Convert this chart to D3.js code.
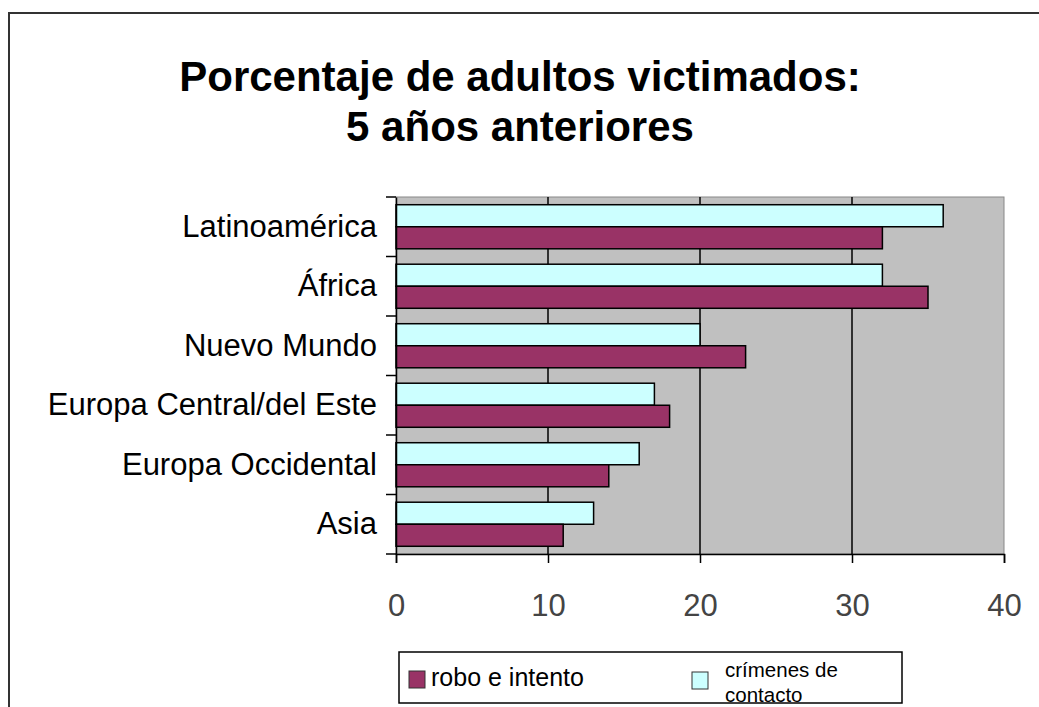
<!DOCTYPE html>
<html lang="es">
<head>
<meta charset="UTF-8">
<title>Porcentaje de adultos victimados</title>
<style>
  body { margin: 0; background: #fff; }
  text { font-family: Arial, "Liberation Sans", sans-serif; }
</style>
</head>
<body>
<script src="https://cdn.jsdelivr.net/npm/d3@7"></script>
<script>
  // datos
  const regions = ['Latinoamérica', 'África', 'Nuevo Mundo', 'Europa Central/del Este', 'Europa Occidental', 'Asia'];
  const contacto = [36, 32, 20, 17, 16, 13];   // crímenes de contacto
  const robo = [32, 35, 23, 18, 14, 11];       // robo e intento
  const xTicks = [0, 10, 20, 30, 40];
  const seriesNames = ['crímenes de contacto', 'robo e intento'];
  const colors = ['#ccffff', '#993366'];

  const w = 1039;
  const h = 707;
  const plot = { left: 396, right: 1004, top: 197, bottom: 554 };

  const svg = d3.select('body')
    .append('svg')
    .attr('width', w)
    .attr('height', h);

  // marco exterior
  svg.append('rect')
    .attr('x', 9).attr('y', 13)
    .attr('width', w + 20).attr('height', h + 20)
    .attr('fill', 'none')
    .attr('stroke', '#333')
    .attr('stroke-width', 2);

  // titulo
  const title = svg.append('text')
    .attr('text-anchor', 'middle')
    .attr('font-size', '42px')
    .attr('font-weight', 'bold')
    .attr('fill', '#000');
  title.append('tspan').attr('x', 520).attr('y', 91).text('Porcentaje de adultos victimados:');
  title.append('tspan').attr('x', 520).attr('y', 141).text('5 años anteriores');

  const xScale = d3.scaleLinear()
    .domain([0, 40])
    .range([plot.left, plot.right]);

  const yScale = d3.scaleBand()
    .domain(regions)
    .range([plot.top, plot.bottom]);

  const inner = d3.scaleBand()
    .domain([0, 1])
    .range([0, yScale.bandwidth()])
    .paddingOuter(0.35)
    .paddingInner(0);

  // fondo del area de trazado
  svg.append('rect')
    .attr('x', plot.left).attr('y', plot.top)
    .attr('width', plot.right - plot.left)
    .attr('height', plot.bottom - plot.top)
    .attr('fill', '#c0c0c0')
    .attr('stroke', '#888')
    .attr('stroke-width', 1);

  // lineas de division
  svg.selectAll('.grid')
    .data(xTicks.slice(1, -1))
    .enter()
    .append('line')
    .attr('x1', d => xScale(d)).attr('x2', d => xScale(d))
    .attr('y1', plot.top).attr('y2', plot.bottom)
    .attr('stroke', '#000')
    .attr('stroke-width', 1.5);

  const rows = regions.map((r, i) => ({ region: r, values: [contacto[i], robo[i]] }));

  const groups = svg.selectAll('.row')
    .data(rows)
    .enter()
    .append('g')
    .attr('transform', d => `translate(0,${yScale(d.region)})`);

  groups.selectAll('rect')
    .data(d => d.values.map((v, k) => ({ v, k })))
    .enter()
    .append('rect')
    .attr('x', xScale(0))
    .attr('y', d => inner(d.k))
    .attr('width', d => xScale(d.v) - xScale(0))
    .attr('height', inner.bandwidth())
    .attr('fill', d => colors[d.k])
    .attr('stroke', '#000')
    .attr('stroke-width', 1.5);

  // eje vertical
  const yAxis = d3.axisLeft(yScale).tickSize(0).tickPadding(19);
  const yg = svg.append('g')
    .attr('transform', `translate(${plot.left},0)`)
    .call(yAxis);
  yg.select('.domain').attr('stroke', '#000').attr('stroke-width', 1.5);
  yg.selectAll('text')
    .attr('font-size', '31px')
    .attr('font-family', 'Arial, "Liberation Sans", sans-serif')
    .attr('fill', '#000');
  // marcas entre categorias
  svg.selectAll('.ytick')
    .data(regions.concat(['end']))
    .enter()
    .append('line')
    .attr('x1', plot.left - 10).attr('x2', plot.left)
    .attr('y1', (d, i) => plot.top + i * yScale.step())
    .attr('y2', (d, i) => plot.top + i * yScale.step())
    .attr('stroke', '#000')
    .attr('stroke-width', 1.5);

  // eje horizontal
  const xAxis = d3.axisBottom(xScale).tickValues(xTicks).tickSize(9).tickPadding(31);
  const xg = svg.append('g')
    .attr('transform', `translate(0,${plot.bottom})`)
    .call(xAxis);
  xg.select('.domain').attr('stroke', '#000').attr('stroke-width', 1.5);
  xg.selectAll('line').attr('stroke', '#000').attr('stroke-width', 1.5);
  xg.selectAll('text')
    .attr('font-size', '31px')
    .attr('font-family', 'Arial, "Liberation Sans", sans-serif')
    .attr('fill', '#444');

  // leyenda
  const legend = svg.append('g');
  legend.append('rect')
    .attr('x', 399).attr('y', 652)
    .attr('width', 503).attr('height', 51)
    .attr('fill', '#fff')
    .attr('stroke', '#000')
    .attr('stroke-width', 1.5);
  legend.append('rect')
    .attr('x', 409).attr('y', 671).attr('width', 16).attr('height', 17)
    .attr('fill', colors[1]).attr('stroke', '#333');
  legend.append('text')
    .attr('x', 431).attr('y', 686)
    .attr('font-size', '25px')
    .text(seriesNames[1]);
  legend.append('rect')
    .attr('x', 692).attr('y', 672).attr('width', 16).attr('height', 17)
    .attr('fill', colors[0]).attr('stroke', '#333');
  const lt = legend.append('text').attr('font-size', '20.5px');
  lt.append('tspan').attr('x', 725).attr('y', 677).text('crímenes de');
  lt.append('tspan').attr('x', 725).attr('y', 702).text('contacto');
</script>
</body>
</html>
